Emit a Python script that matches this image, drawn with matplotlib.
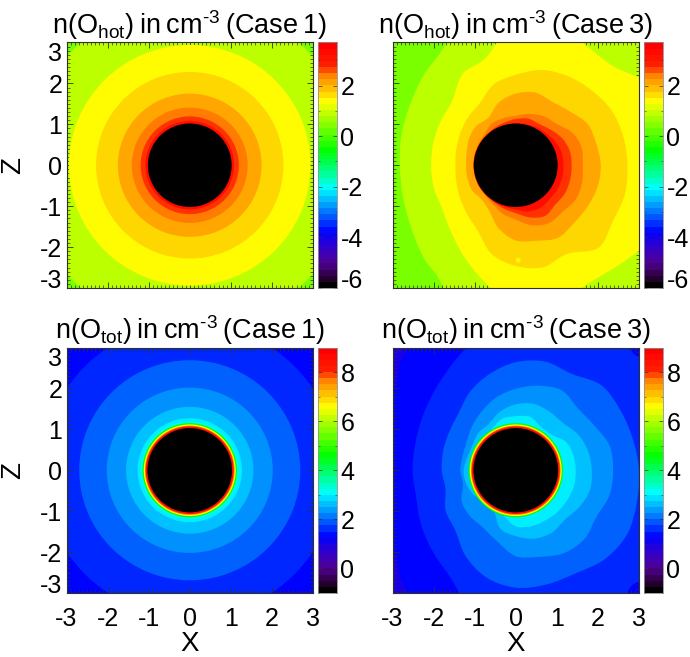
import numpy as np
import matplotlib
matplotlib.use('Agg')
import matplotlib.pyplot as plt
from matplotlib.colors import LinearSegmentedColormap, Normalize
from matplotlib.path import Path
from matplotlib.patches import PathPatch
from matplotlib.ticker import MultipleLocator

plt.rcParams['font.family'] = ['Liberation Sans', 'DejaVu Sans']
plt.rcParams['mathtext.fontset'] = 'custom'
plt.rcParams['mathtext.rm'] = 'Liberation Sans'
plt.rcParams['mathtext.default'] = 'rm'

# log10 density of each filled band, outer band first
hot_values = [0.4, 0.9, 1.45, 1.75, 2.15, 2.5, 2.8, 3.4]
tot_values = [1.25, 1.5, 1.9, 2.25, 2.6, 2.95, 3.2]
tot_corner_value = 0.9
tot_ring_values = [4.6, 6.7, 7.75, 8.6]

# Case 1: contours are circles, radius of each band in planet radii
hot1_radii = [4.0, 2.94, 2.28, 1.75, 1.41, 1.195, 1.08]
hot_disc = 1.02
tot1_radii = [3.6, 2.69, 2.02, 1.55, 1.27, 1.19]
tot_ring_radii = [1.15, 1.12, 1.09, 1.07]
tot_disc = 1.03

# Case 3: contour radius against angle, 15 degree steps from +X counter clockwise
angles = np.arange(0, 360, 15)
hot3_radii = [
    [5, 5, 5, 5, 5, 5, 5, 4.5, 3.42, 3.15, 2.97, 2.88, 2.82, 2.85, 2.96, 3.18, 3.5, 5, 5, 5, 5, 5, 5, 5],
    [5, 5, 3.95, 3.40, 3.39, 3.6, 3.6, 2.74, 2.58, 2.2, 2.12, 2.08, 2.06, 2.07, 2.08, 2.25, 2.55, 2.95, 3.5, 3.6, 3.39, 3.49, 3.83, 5],
    [2.72, 2.71, 2.69, 2.60, 2.52, 2.41, 2.21, 2.05, 1.75, 1.65, 1.56, 1.50, 1.47, 1.50, 1.57, 1.68, 1.85, 2.25, 2.46, 2.58, 2.5, 2.85, 2.73, 2.75],
    [2.07, 2.03, 2.02, 1.86, 1.79, 1.84, 1.75, 1.59, 1.34, 1.36, 1.31, 1.24, 1.21, 1.22, 1.23, 1.18, 1.29, 1.6, 1.84, 1.91, 2.05, 2.0, 2.02, 2.06],
    [1.63, 1.66, 1.59, 1.42, 1.38, 1.30, 1.21, 1.19, 1.17, 1.08, 1.05, 1.04, 1.03, 1.03, 1.04, 1.05, 1.10, 1.23, 1.33, 1.52, 1.63, 1.61, 1.68, 1.67],
    [1.36, 1.36, 1.31, 1.22, 1.16, 1.18, 1.13, 1.08, 1.05, 1.03, 1.03, 1.03, 1.03, 1.03, 1.03, 1.03, 1.05, 1.10, 1.17, 1.32, 1.43, 1.36, 1.38, 1.37],
    [1.16, 1.16, 1.13, 1.08, 1.06, 1.04, 1.03, 1.025, 1.025, 1.025, 1.025, 1.025, 1.025, 1.025, 1.025, 1.025, 1.03, 1.05, 1.08, 1.17, 1.2, 1.17, 1.17, 1.17],
]
hot3_spot = (0.06, -2.32, 0.06)
tot3_radii = [
    [5, 5, 5, 5, 5, 5, 5, 5, 4.3, 3.9, 3.6, 5, 5, 5, 3.6, 3.9, 4.3, 5, 5, 5, 5, 5, 5, 5],
    [5, 5, 5, 4.04, 5, 5, 5, 3.5, 3.04, 2.78, 2.62, 2.53, 2.51, 2.51, 2.66, 2.84, 3.1, 3.8, 5, 5, 5, 3.99, 5, 5],
    [3.0, 2.95, 2.94, 2.94, 2.72, 2.75, 2.64, 2.44, 2.22, 1.97, 1.87, 1.83, 1.80, 1.77, 1.97, 2.08, 2.43, 2.72, 2.87, 2.89, 2.91, 3.07, 3.13, 3.05],
    [2.37, 2.36, 2.20, 2.14, 2.25, 2.14, 1.99, 1.84, 1.66, 1.51, 1.38, 1.34, 1.35, 1.33, 1.52, 1.58, 1.61, 1.79, 2.10, 2.19, 2.34, 2.37, 2.27, 2.36],
    [1.85, 1.82, 1.75, 1.63, 1.65, 1.68, 1.61, 1.48, 1.31, 1.29, 1.22, 1.22, 1.27, 1.25, 1.19, 1.09, 1.09, 1.47, 1.61, 1.73, 1.76, 1.70, 1.79, 1.87],
    [1.46, 1.45, 1.40, 1.23, 1.23, 1.35, 1.32, 1.30, 1.16, 1.10, 1.10, 1.11, 1.12, 1.11, 1.10, 1.08, 1.09, 1.15, 1.37, 1.42, 1.42, 1.44, 1.45, 1.47],
]

titles = ['n(O$_{\\mathrm{hot}}$)\u2009in\u2009cm$^{\\text{-3}}$\u2009(Case\u20091)',
          'n(O$_{\\mathrm{hot}}$)\u2009in\u2009cm$^{\\text{-3}}$\u2009(Case\u20093)',
          'n(O$_{\\mathrm{tot}}$)\u2009in\u2009cm$^{\\text{-3}}$\u2009(Case\u20091)',
          'n(O$_{\\mathrm{tot}}$)\u2009in\u2009cm$^{\\text{-3}}$\u2009(Case\u20093)']
hot_range = (-6, 3.7)
tot_range = (-1, 9)
hot_ticks = [2, 0, -2, -4, -6]
tot_ticks = [8, 6, 4, 2, 0]
xy_ticks = [-3, -2, -1, 0, 1, 2, 3]

W, H = 690, 657
stops = [(0, '#000000'), (0.03, '#280030'), (0.09, '#500090'), (0.16, '#3000d0'), (0.224, '#0000ff'),
         (0.3, '#0070ff'), (0.407, '#00ffff'), (0.47, '#00ff90'), (0.562, '#00ff00'),
         (0.766, '#ffff00'), (0.875, '#ff8000'), (0.915, '#ff2000'), (1, '#ff0000')]
bar_cmap = LinearSegmentedColormap.from_list('idl_bar', stops, N=40)
cmap = LinearSegmentedColormap.from_list('idl', stops, N=512)
frame = '#303030'


def px_axes(fig, left, top, right, bottom):
    return fig.add_axes([left / W, 1 - bottom / H, (right - left) / W, (bottom - top) / H])


def band(ax, radii, color, zorder):
    # one filled contour, radii is a number or one radius per angle
    if np.isscalar(radii):
        ax.add_patch(plt.Circle((0, 0), radii, color=color, lw=0, zorder=zorder))
        return
    t = np.radians(angles)
    pts = np.column_stack([np.array(radii) * np.cos(t), np.array(radii) * np.sin(t)])
    # smooth closed curve through the read points
    verts = [pts[0]]
    codes = [Path.MOVETO]
    n = len(pts)
    for i in range(n):
        p0, p1, p2, p3 = pts[i - 1], pts[i], pts[(i + 1) % n], pts[(i + 2) % n]
        verts += [p1 + (p2 - p0) / 6, p2 - (p3 - p1) / 6, p2]
        codes += [Path.CURVE4] * 3
    ax.add_patch(PathPatch(Path(verts, codes), color=color, lw=0, zorder=zorder))


def panel(fig, left, top, radii, values, norm, title, cticks, background, show_x, show_y):
    ax = px_axes(fig, left, top, left + 246.5, top + 245.5)
    ax.set_facecolor(background)
    for i, (r, v) in enumerate(zip(radii, values)):
        band(ax, r, cmap(norm(v)), 2 + i)
    ax.set_xlim(-3, 3)
    ax.set_ylim(-3, 3)
    ax.set_xticks(xy_ticks)
    ax.set_yticks(xy_ticks)
    ax.set_xticklabels([str(t) for t in xy_ticks])
    ax.set_yticklabels([str(t) for t in xy_ticks])
    ax.xaxis.set_minor_locator(MultipleLocator(0.1))
    ax.yaxis.set_minor_locator(MultipleLocator(0.1))
    ax.tick_params(which='major', direction='in', top=True, right=True, length=4, width=0.6, color=frame,
                   labelsize=18, labelbottom=show_x, labelleft=show_y)
    ax.tick_params(axis='x', which='major', pad=10)
    ax.tick_params(axis='y', which='major', pad=3)
    ax.tick_params(which='minor', direction='in', top=True, right=True, length=2, width=0.5, color=frame)
    ax.set_axisbelow(False)
    if show_y:
        ax.get_yticklabels()[0].set_verticalalignment('baseline')
        ax.get_yticklabels()[-1].set_verticalalignment('top')
        ax.set_ylabel('Z', fontsize=20, labelpad=10)
    if show_x:
        ax.set_xlabel('X', fontsize=20, labelpad=0)
    for s in ax.spines.values():
        s.set_linewidth(0.8)
        s.set_color(frame)
        s.set_zorder(30)
    ax.set_title(title, fontsize=19.5, pad=6)

    # colour bar
    cax = px_axes(fig, left + 251, top, left + 270.5, top + 245.5)
    edges = np.linspace(norm.vmin, norm.vmax, bar_cmap.N + 1)
    cax.pcolormesh([0, 1], edges, ((edges[:-1] + edges[1:]) / 2)[:, None], cmap=bar_cmap, norm=norm)
    cax.set_xticks([])
    cax.set_ylim(norm.vmin, norm.vmax)
    cax.set_yticks(cticks)
    cax.set_yticklabels([str(t) for t in cticks])
    cax.yaxis.set_minor_locator(MultipleLocator(1))
    cax.tick_params(which='major', direction='in', left=True, right=True, labelleft=False, labelright=True,
                    length=3, width=0.5, color=frame, labelsize=18, pad=2.5)
    cax.tick_params(which='minor', direction='in', left=True, right=True, length=1.5, width=0.4, color=frame)
    if cticks[-1] <= norm.vmin:
        cax.get_yticklabels()[-1].set_verticalalignment('baseline')
    for s in cax.spines.values():
        s.set_linewidth(0.6)
        s.set_color('#909090')
    return ax


fig = plt.figure(figsize=(W / 100, H / 100), dpi=100)
hot_norm = Normalize(*hot_range)
tot_norm = Normalize(*tot_range)

ax = panel(fig, 66.5, 42.5, hot1_radii, hot_values[1:], hot_norm, titles[0], hot_ticks,
           cmap(hot_norm(hot_values[0])), False, True)
band(ax, hot_disc, 'black', 20)

ax = panel(fig, 392.5, 42.5, hot3_radii, hot_values[1:], hot_norm, titles[1], hot_ticks,
           cmap(hot_norm(hot_values[0])), False, False)
ax.add_patch(plt.Circle(hot3_spot[:2], hot3_spot[2], color=cmap(hot_norm(hot_values[2])), lw=0, zorder=15))
band(ax, hot_disc, 'black', 20)

ax = panel(fig, 66.5, 347.5, tot1_radii, tot_values[1:], tot_norm, titles[2], tot_ticks,
           cmap(tot_norm(tot_values[0])), True, True)
for i, (r, v) in enumerate(zip(tot_ring_radii, tot_ring_values)):
    band(ax, r, cmap(tot_norm(v)), 12 + i)
band(ax, tot_disc, 'black', 20)

ax = panel(fig, 392.5, 347.5, tot3_radii, tot_values, tot_norm, titles[3], tot_ticks,
           cmap(tot_norm(tot_corner_value)), True, False)
for i, (r, v) in enumerate(zip(tot_ring_radii, tot_ring_values)):
    band(ax, r, cmap(tot_norm(v)), 12 + i)
band(ax, tot_disc, 'black', 20)

fig.savefig('out.png', dpi=100)
